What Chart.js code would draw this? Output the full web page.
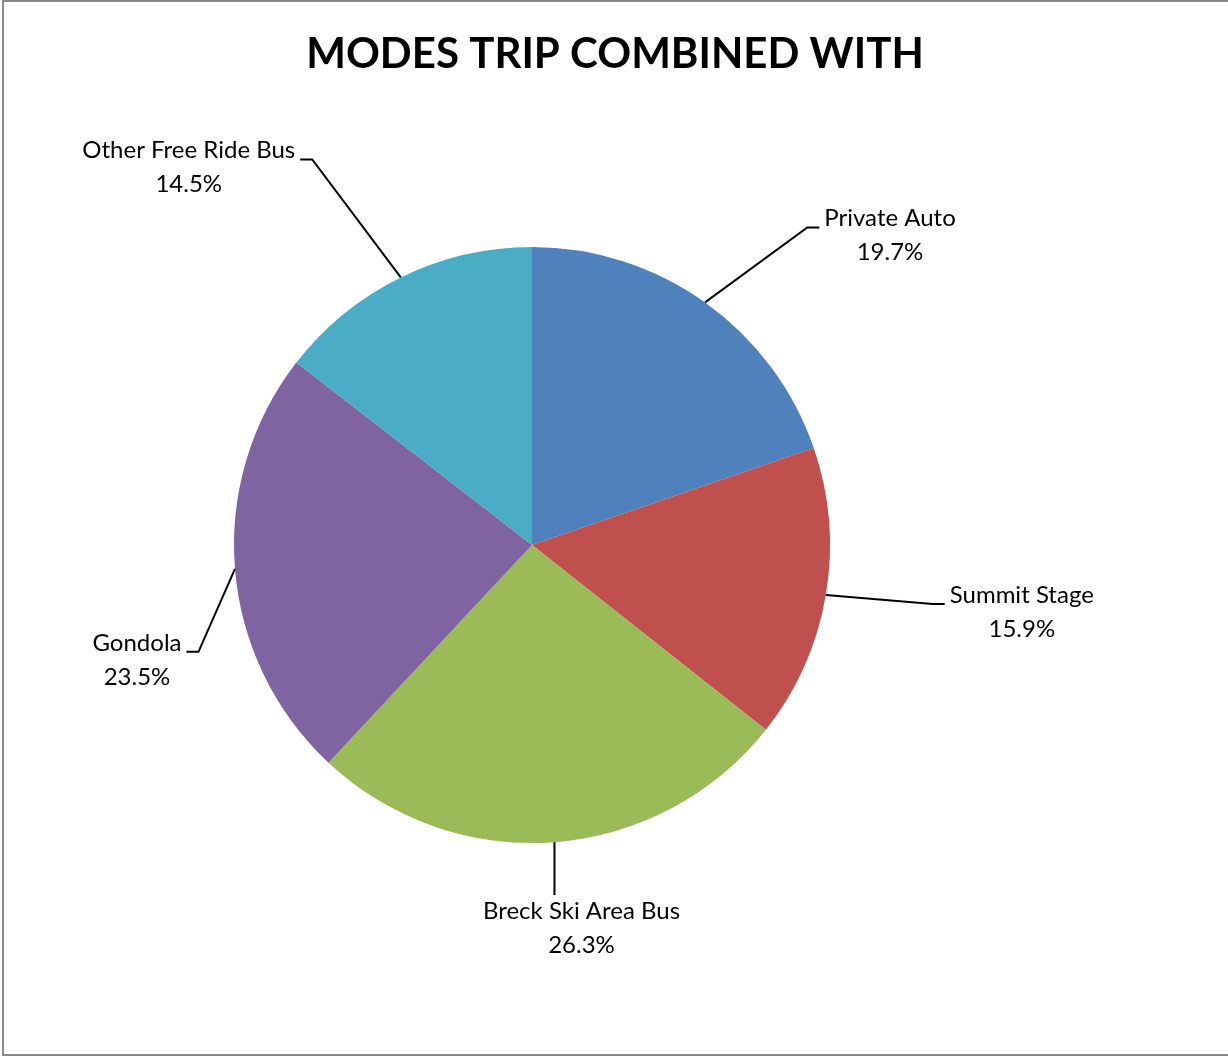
<!DOCTYPE html>
<html>
<head>
<meta charset="utf-8">
<title>Modes Trip Combined With</title>
<script src="https://cdn.jsdelivr.net/npm/chart.js@4.4.1/dist/chart.umd.min.js"></script>
<style>
  html, body { margin: 0; padding: 0; background: #fff; }
  canvas { display: block; }
</style>
</head>
<body>
<canvas id="chart" width="1228" height="1057"></canvas>
<script>
const categories = ['Private Auto', 'Summit Stage', 'Breck Ski Area Bus', 'Gondola', 'Other Free Ride Bus'];
const shares = [19.7, 15.9, 26.3, 23.5, 14.5];
const colors = ['#4F81BD', '#C0504D', '#9BBB59', '#8064A2', '#4BACC6'];
// label block centre, measured from the point where the leader leaves the slice
const labelOffsets = [[185, -67], [196, 17], [27, 86], [-98, 91], [-212, -110]];

const FONT = 'Lato, "Open Sans", "Liberation Sans", sans-serif';
const TITLE = 'MODES TRIP COMBINED WITH';
const LINE_H = 34;

const framePlugin = {
    id: 'frame',
    beforeDraw(chart) {
        const ctx = chart.ctx;
        ctx.save();
        ctx.fillStyle = '#ffffff';
        ctx.fillRect(0, 0, chart.width, chart.height);
        ctx.strokeStyle = '#8a8a8a';
        ctx.lineWidth = 2;
        ctx.strokeRect(3, 1, chart.width + 10, chart.height - 3);
        ctx.restore();
    },
    afterDraw(chart) {
        const ctx = chart.ctx;
        ctx.save();
        ctx.fillStyle = '#000000';
        ctx.font = 'bold 42px ' + FONT;
        ctx.textAlign = 'center';
        ctx.textBaseline = 'alphabetic';
        ctx.fillText(TITLE, 615, 68);
        ctx.restore();
    }
};

const leaderPlugin = {
    id: 'leaders',
    afterDatasetsDraw(chart) {
        const ctx = chart.ctx;
        const arcs = chart.getDatasetMeta(0).data;
        ctx.save();
        ctx.font = '24px ' + FONT;
        ctx.strokeStyle = '#000000';
        ctx.fillStyle = '#000000';
        ctx.lineWidth = 2;
        ctx.textAlign = 'center';
        ctx.textBaseline = 'middle';

        arcs.forEach((arc, i) => {
            const p = arc.getProps(['x', 'y', 'startAngle', 'endAngle', 'outerRadius'], true);
            const mid = (p.startAngle + p.endAngle) / 2;
            const ex = p.x + Math.cos(mid) * p.outerRadius;
            const ey = p.y + Math.sin(mid) * p.outerRadius;
            const cx = ex + labelOffsets[i][0];
            const cy = ey + labelOffsets[i][1];

            const lines = [categories[i], shares[i].toFixed(1) + '%'];
            const w = Math.max(...lines.map(t => ctx.measureText(t).width));

            ctx.beginPath();
            ctx.moveTo(ex, ey);
            if (Math.abs(labelOffsets[i][0]) < 60) {
                // label straight below the slice
                ctx.lineTo(ex, cy - LINE_H + 1);
            } else {
                const dir = labelOffsets[i][0] > 0 ? 1 : -1;
                const ax = cx - dir * (w / 2 + 5);
                const ay = cy - 8;
                ctx.lineTo(ax - dir * 12, ay);
                ctx.lineTo(ax, ay);
            }
            ctx.stroke();

            ctx.fillText(lines[0], cx, cy - LINE_H / 2);
            ctx.fillText(lines[1], cx, cy + LINE_H / 2);
        });
        ctx.restore();
    }
};

new Chart(document.getElementById('chart'), {
    type: 'pie',
    data: {
        labels: categories,
        datasets: [{
            data: shares,
            backgroundColor: colors,
            borderWidth: 0
        }]
    },
    options: {
        responsive: false,
        animation: false,
        layout: {
            padding: { left: 234, right: 398, top: 247, bottom: 214 }
        },
        plugins: {
            legend: { display: false },
            title: { display: false },
            tooltip: { enabled: false }
        }
    },
    plugins: [framePlugin, leaderPlugin]
});
</script>
</body>
</html>
